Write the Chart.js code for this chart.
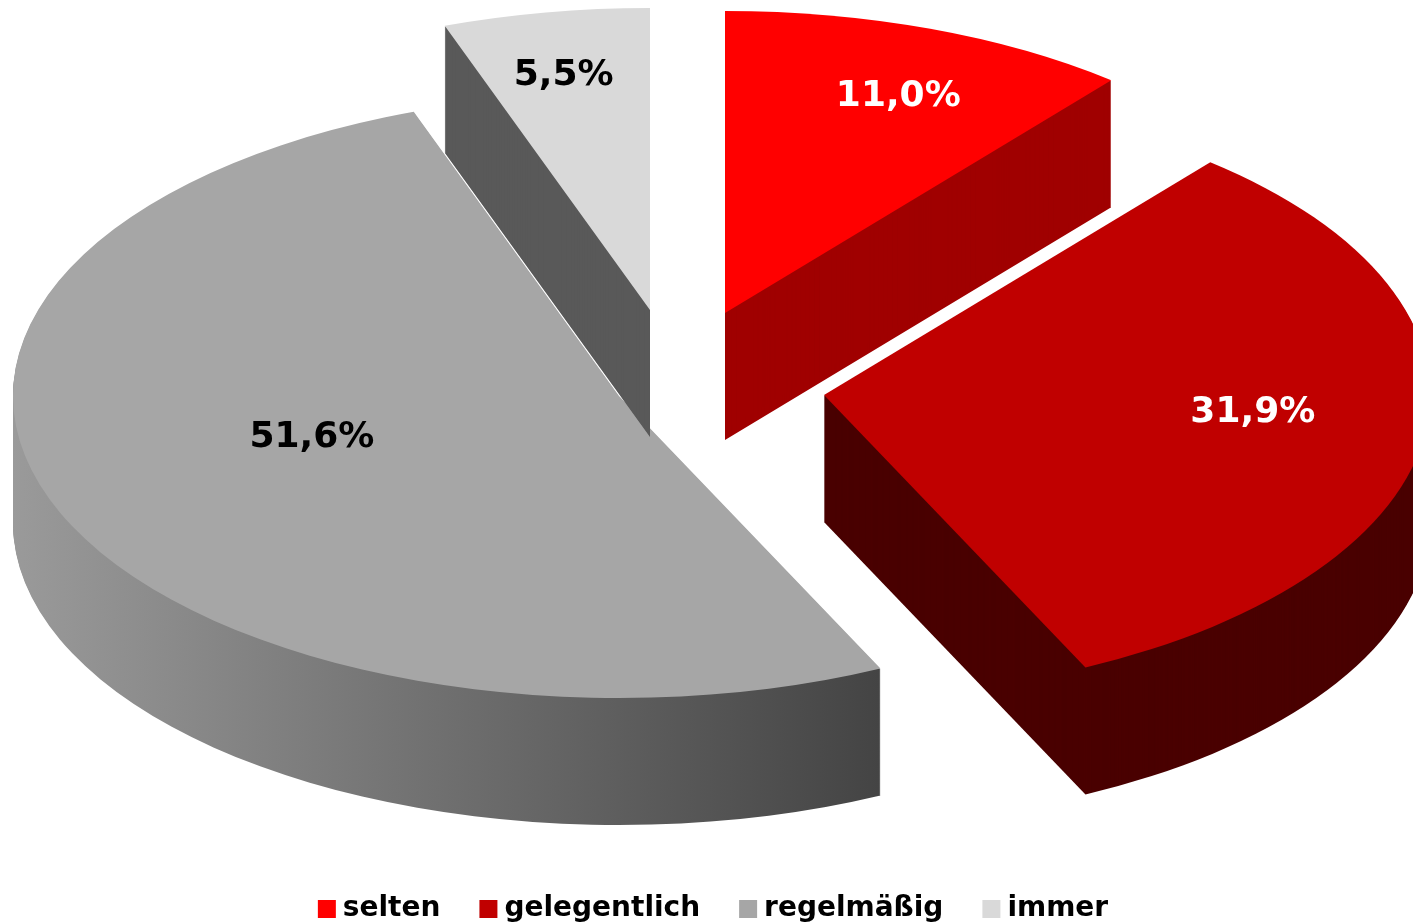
<!DOCTYPE html>
<html>
<head>
<meta charset="utf-8">
<title>Pie</title>
<script src="https://cdn.jsdelivr.net/npm/chart.js@4"></script>
<style>
  html, body { margin: 0; padding: 0; background: #fff; overflow: hidden; }
  canvas { display: block; }
</style>
</head>
<body>
<canvas id="chart" width="1413" height="924"></canvas>
<script>
// data
const categories = ["selten", "gelegentlich", "regelmäßig", "immer"];
const shares = [11.0, 31.9, 51.6, 5.5];

// look of the slices
const topColors = ["#ff0000", "#c00000", "#a6a6a6", "#d9d9d9"];
const wallColors = ["#a00000", "#4a0000", ["#9a9a9a", "#444444"], "#595959"];
const labelColors = ["#ffffff", "#ffffff", "#000000", "#000000"];
const explode = [[18.5, -107], [117.5, -25], [-87.5, -24], [-56.5, -110]]; // px away from pie centre
const labelRadius = [0.77, 0.71, 0.525, 0.79];
const labelTurn = [2.0, -2.3, 7.5, -0.5]; // degrees
const drawOrder = [2, 3, 0, 1];
const halfWidth = 606;
const halfHeight = 302;
const depth = 127;

function placeSlice(ctx, el, i, drop) {
  ctx.translate(el.x + explode[i][0], el.y + explode[i][1] + drop);
  ctx.scale(halfWidth / el.outerRadius, halfHeight / el.outerRadius);
  ctx.translate(-el.x, -el.y);
}

function wallFill(ctx, el, i) {
  const c = wallColors[i];
  if (!Array.isArray(c)) return c;
  const g = ctx.createLinearGradient(el.x - el.outerRadius, 0, el.x + el.outerRadius, 0);
  g.addColorStop(0, c[0]);
  g.addColorStop(0.715, c[1]);
  g.addColorStop(1, c[1]);
  return g;
}

const pie3d = {
  id: "pie3d",
  afterLayout(chart) {
    // legend sits lower and a bit right of where the layout wants it
    chart.legend.top += 9;
    chart.legend.bottom += 9;
    chart.legend.left += 10;
    chart.legend.right += 10;
  },
  beforeDatasetsDraw(chart) {
    const ctx = chart.ctx;
    const arcs = chart.getDatasetMeta(0).data;
    drawOrder.forEach(i => {
      const el = arcs[i];
      const topOptions = el.options;
      el.options = { ...topOptions, backgroundColor: wallFill(ctx, el, i) };
      // side wall, stacked 1px at a time
      for (let d = depth; d > 0; d--) {
        ctx.save();
        placeSlice(ctx, el, i, d);
        el.draw(ctx);
        ctx.restore();
      }
      el.options = topOptions;
      ctx.save();
      placeSlice(ctx, el, i, 0);
      el.draw(ctx);
      ctx.restore();
    });
    // value labels
    ctx.save();
    ctx.font = "bold 36px 'DejaVu Sans'";
    ctx.textAlign = "center";
    ctx.textBaseline = "middle";
    arcs.forEach((el, i) => {
      const a = (el.startAngle + el.endAngle) / 2 + labelTurn[i] * Math.PI / 180;
      const x = el.x + explode[i][0] + Math.cos(a) * labelRadius[i] * halfWidth;
      const y = el.y + explode[i][1] + Math.sin(a) * labelRadius[i] * halfHeight;
      ctx.fillStyle = labelColors[i];
      ctx.fillText(shares[i].toFixed(1).replace(".", ",") + "%", x, y);
    });
    ctx.restore();
    return false;
  }
};

new Chart(document.getElementById("chart"), {
  type: "pie",
  data: {
    labels: categories,
    datasets: [{
      data: shares,
      backgroundColor: topColors,
      borderWidth: 0
    }]
  },
  options: {
    responsive: false,
    animation: false,
    events: [],
    plugins: {
      tooltip: { enabled: false },
      legend: {
        position: "bottom",
        labels: {
          usePointStyle: true,
          pointStyle: "rect",
          boxWidth: 4,
          boxHeight: 18,
          padding: 46,
          color: "#000000",
          font: { family: "'DejaVu Sans'", size: 28, weight: "bold" }
        }
      }
    }
  },
  plugins: [pie3d]
});
</script>
</body>
</html>
